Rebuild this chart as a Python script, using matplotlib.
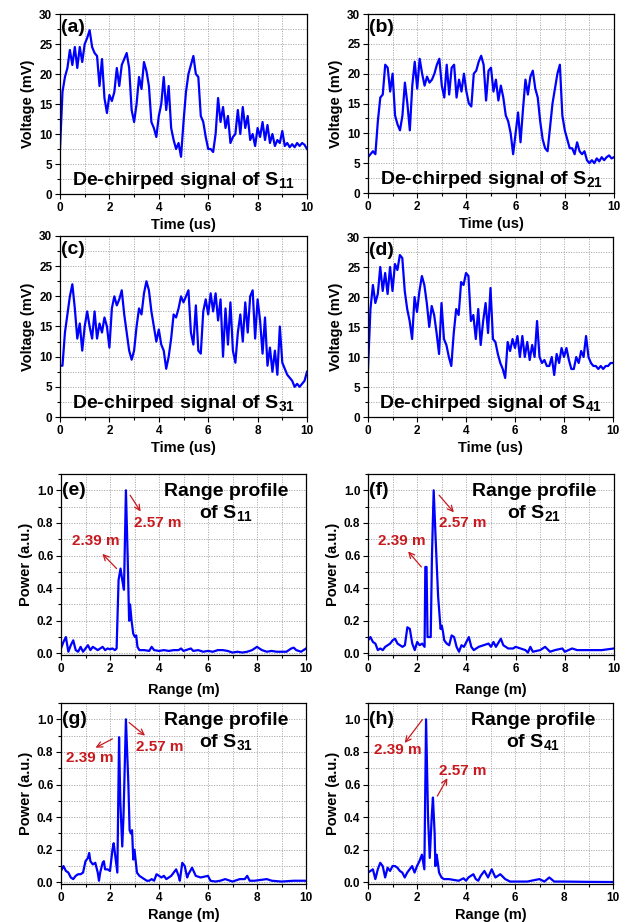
import numpy as np
import matplotlib
matplotlib.use('Agg')
import matplotlib.pyplot as plt
from matplotlib.ticker import MultipleLocator

plt.rcParams['font.family'] = ['Liberation Sans', 'DejaVu Sans']
plt.rcParams['font.weight'] = 'bold'
plt.rcParams['mathtext.fontset'] = 'custom'
plt.rcParams['mathtext.rm'] = 'Liberation Sans'
plt.rcParams['mathtext.bf'] = 'Liberation Sans:bold'

# de-chirped signals, sampled every 0.1 us (mV)
time_us = np.linspace(0, 10, 101)

sig_s11 = [7.5, 17, 19.5, 21, 24, 21.5, 24.5, 21, 24.5, 22,
           25, 26, 27.3, 24.5, 23.5, 23, 18, 22.5, 16, 13.5,
           16.5, 15.5, 17, 21, 18, 21.5, 22.5, 23.5, 21, 14,
           12, 15, 19.5, 17.5, 22, 20.5, 18, 12, 11, 9.5,
           13, 15, 19.5, 14, 18, 11, 9, 7.5, 8.5, 6.2,
           12, 17, 20, 21.5, 23, 20, 19.5, 13, 12, 9.5,
           7.5, 7.5, 7, 10, 16, 12, 14.5, 11, 13, 8.5,
           9.5, 10, 14, 10, 14.5, 11, 13, 9, 10, 8,
           11, 9.5, 12, 9, 11.5, 8.5, 10, 8, 9, 8.5,
           10.5, 8, 8.5, 7.8, 8.3, 7.8, 8.5, 8, 8.5, 8.2, 7.5]

sig_s21 = [6, 6.5, 7, 6.5, 12, 16, 16.5, 21.5, 21, 17,
           20, 13, 11.5, 10.5, 13, 18.5, 15, 10.5, 18, 22,
           17.5, 22.5, 20, 18, 19.5, 18.5, 19, 20, 21.5, 22.5,
           18, 16, 21.5, 16.5, 21, 21.5, 16, 19, 17, 20,
           17, 15, 14.5, 20, 20.5, 22, 23, 21.5, 15.5, 20.5,
           21, 17, 19, 15.5, 18, 16, 13, 12, 10, 6.5,
           10, 13.5, 8.5, 14, 19, 16.5, 19.5, 20.5, 17.5, 16,
           12, 9, 7.5, 7, 11, 15, 17.5, 20, 21.5, 13,
           10.5, 9, 7.5, 7.5, 6.5, 8.5, 7, 6.5, 7, 5.5,
           5, 5.5, 5, 5.8, 5.3, 6, 5.5, 6, 6.3, 5.8, 6]

sig_s31 = [8.5, 8.5, 14, 17, 20, 22, 18, 13, 15.5, 11,
           15, 17.5, 15, 13, 17.5, 13, 15.5, 14, 16.5, 15,
           11.5, 18, 20, 18.5, 19.5, 21, 17, 14, 11, 9.5,
           11, 15, 18, 17, 20.5, 22.5, 21, 17.5, 15, 12.5,
           14.5, 12, 11, 8, 10, 13, 17, 16.5, 18, 20,
           19, 20, 21, 14, 12, 18.5, 11, 10.5, 17.5, 19.5,
           17, 20.5, 17.5, 20.5, 16, 19.5, 10, 18, 12, 19,
           11, 9, 14, 17, 12.5, 19, 14, 20, 21, 13,
           19.5, 16, 10.5, 16.5, 8.5, 11.5, 7.5, 11, 7, 15,
           9, 8, 7, 6.5, 6, 5, 5.5, 5, 5.5, 6, 7.5]

sig_s41 = [8, 18, 22, 19, 20.5, 25, 21, 24, 20.5, 25,
           21, 25.5, 24.5, 27, 26.5, 21, 18, 16, 13, 20,
           17.5, 21, 23.5, 22, 19, 15, 18.5, 17, 14, 10.5,
           19, 13, 12, 10, 8.5, 14, 18, 17, 22.5, 22,
           24, 23.5, 16, 17, 13, 18, 12, 16, 19, 14,
           21.5, 13, 12.5, 10.5, 9, 8, 6.5, 12.5, 11, 13,
           11.5, 13.5, 10, 13.5, 10, 12.5, 9.5, 12, 10, 16,
           10, 9, 9.5, 8.5, 8.5, 10, 7, 10.5, 9, 11.5,
           10, 11.5, 9.5, 8, 8, 10, 9, 11, 10, 13.5,
           10, 9, 8.5, 8.5, 8, 8.5, 8, 8.5, 8.5, 9, 9]

# range profiles (m, a.u.)
rng_s11 = [0, 0.1, 0.2, 0.3, 0.4, 0.5, 0.6, 0.7, 0.8, 0.9, 1.0, 1.1, 1.2, 1.3, 1.4,
           1.5, 1.6, 1.7, 1.8, 1.9, 2.0, 2.1, 2.2, 2.27, 2.35, 2.43, 2.5, 2.57,
           2.65, 2.72, 2.78, 2.82, 2.88, 2.95, 3.02, 3.07, 3.12, 3.2, 3.4, 3.6,
           3.7, 3.8, 4.0, 4.2, 4.4, 4.6, 4.8, 4.9, 5.0, 5.2, 5.3, 5.4, 5.6, 5.8,
           6.0, 6.2, 6.4, 6.6, 6.8, 7.0, 7.2, 7.4, 7.6, 7.8, 8.0, 8.2, 8.4, 8.6,
           8.8, 9.0, 9.2, 9.4, 9.5, 9.6, 9.8, 10.0]
pow_s11 = [0.03, 0.07, 0.1, 0.01, 0.05, 0.08, 0.02, 0.01, 0.04, 0.01, 0.03, 0.05,
           0.02, 0.04, 0.03, 0.02, 0.03, 0.04, 0.02, 0.03, 0.025, 0.03, 0.02, 0.03,
           0.45, 0.52, 0.45, 0.39, 1.0, 0.6, 0.2, 0.3, 0.2, 0.12, 0.1, 0.11, 0.04,
           0.02, 0.02, 0.015, 0.04, 0.02, 0.015, 0.02, 0.015, 0.02, 0.02, 0.03,
           0.015, 0.025, 0.03, 0.015, 0.02, 0.01, 0.015, 0.01, 0.02, 0.02, 0.015,
           0.005, 0.01, 0.005, 0.01, 0.02, 0.04, 0.02, 0.01, 0.015, 0.01, 0.01,
           0.01, 0.03, 0.035, 0.02, 0.01, 0.03]

rng_s21 = [0, 0.1, 0.2, 0.3, 0.4, 0.5, 0.6, 0.7, 0.8, 0.9, 1.0, 1.1, 1.2, 1.3, 1.4,
           1.5, 1.6, 1.7, 1.8, 1.9, 2.0, 2.1, 2.2, 2.3, 2.33, 2.38, 2.42, 2.5,
           2.55, 2.6, 2.67, 2.75, 2.85, 2.95, 3.0, 3.05, 3.1, 3.2, 3.3, 3.4, 3.5,
           3.6, 3.7, 3.8, 3.9, 4.0, 4.1, 4.2, 4.3, 4.5, 4.7, 4.9, 5.0, 5.1, 5.2,
           5.4, 5.5, 5.7, 5.9, 6.0, 6.2, 6.4, 6.5, 6.6, 6.7, 7.0, 7.2, 7.4, 7.6,
           7.9, 8.0, 8.3, 8.5, 9.0, 9.5, 10.0]
pow_s21 = [0.08, 0.1, 0.07, 0.06, 0.02, 0.03, 0.02, 0.04, 0.05, 0.06, 0.08, 0.09,
           0.06, 0.05, 0.04, 0.05, 0.16, 0.15, 0.06, 0.02, 0.07, 0.05, 0.06, 0.04,
           0.53, 0.53, 0.1, 0.1, 0.1, 0.6, 1.0, 0.7, 0.35, 0.15, 0.17, 0.13, 0.08,
           0.06, 0.05, 0.11, 0.1, 0.04, 0.01, 0.05, 0.04, 0.07, 0.1, 0.04, 0.02,
           0.04, 0.05, 0.06, 0.04, 0.07, 0.04, 0.09, 0.05, 0.03, 0.03, 0.04, 0.03,
           0.02, 0.005, 0.04, 0.01, 0.02, 0.04, 0.01, 0.02, 0.03, 0.01, 0.03, 0.02,
           0.02, 0.02, 0.03]

rng_s31 = [0, 0.1, 0.2, 0.3, 0.4, 0.5, 0.6, 0.7, 0.8, 0.9, 1.0, 1.1, 1.15, 1.2, 1.3,
           1.4, 1.5, 1.55, 1.6, 1.7, 1.75, 1.8, 1.9, 2.0, 2.1, 2.15, 2.2, 2.3,
           2.37, 2.42, 2.5, 2.55, 2.65, 2.75, 2.8, 2.85, 2.9, 2.95, 3.0, 3.1, 3.2,
           3.3, 3.4, 3.5, 3.6, 3.7, 3.8, 3.9, 4.0, 4.1, 4.2, 4.3, 4.5, 4.7, 4.8,
           4.85, 4.95, 5.05, 5.15, 5.2, 5.35, 5.5, 5.7, 6.0, 6.1, 6.3, 6.5, 6.7,
           7.0, 7.3, 7.5, 7.6, 7.7, 7.9, 8.4, 8.6, 9.0, 9.5, 10.0]
pow_s31 = [0.07, 0.1, 0.07, 0.06, 0.03, 0.02, 0.04, 0.05, 0.05, 0.06, 0.13, 0.15,
           0.18, 0.13, 0.11, 0.12, 0.06, 0.01, 0.06, 0.12, 0.13, 0.08, 0.08, 0.07,
           0.2, 0.24, 0.18, 0.06, 0.89, 0.5, 0.22, 0.4, 1.0, 0.6, 0.32, 0.3, 0.32,
           0.14, 0.2, 0.06, 0.04, 0.03, 0.02, 0.01, 0.01, 0.02, 0.01, 0.05, 0.04,
           0.03, 0.04, 0.02, 0.04, 0.08, 0.04, 0.01, 0.12, 0.1, 0.03, 0.05, 0.09,
           0.04, 0.03, 0.04, 0.01, 0.005, 0.01, 0.02, 0.005, 0.02, 0.02, 0.04,
           0.01, 0.01, 0.02, 0.01, 0.005, 0.01, 0.01]

rng_s41 = [0, 0.1, 0.2, 0.3, 0.4, 0.5, 0.6, 0.7, 0.8, 0.9, 1.0, 1.1, 1.2, 1.3, 1.4,
           1.5, 1.6, 1.7, 1.8, 1.9, 2.0, 2.1, 2.2, 2.3, 2.37, 2.45, 2.52, 2.6,
           2.65, 2.72, 2.75, 2.8, 2.85, 2.9, 3.0, 3.1, 3.3, 3.5, 3.7, 3.9, 4.0,
           4.1, 4.3, 4.4, 4.5, 4.6, 4.75, 4.9, 5.05, 5.2, 5.4, 5.6, 5.8, 6.0, 6.5,
           7.0, 7.2, 7.4, 7.6, 8.0, 9.0, 10.0]
pow_s41 = [0.06, 0.07, 0.08, 0.02, 0.08, 0.12, 0.1, 0.03, 0.09, 0.07, 0.1, 0.1,
           0.09, 0.07, 0.06, 0.03, 0.06, 0.08, 0.1, 0.06, 0.1, 0.13, 0.17, 0.08,
           1.0, 0.4, 0.15, 0.4, 0.52, 0.3, 0.1, 0.17, 0.12, 0.06, 0.03, 0.02,
           0.02, 0.015, 0.01, 0.025, 0.01, 0.03, 0.05, 0.02, 0.01, 0.04, 0.07,
           0.03, 0.08, 0.03, 0.05, 0.02, 0.005, 0.005, 0.005, 0.02, 0.005, 0.03,
           0.005, 0.005, 0.003, 0.002]

BLUE = '#0000ff'
RED = '#c8191e'
W, H = 626, 922

fig = plt.figure(figsize=(W / 100, H / 100), dpi=100)


def make_ax(l, r, t, b):
    ax = fig.add_axes([l / W, 1 - b / H, (r - l) / W, (b - t) / H])
    ax.tick_params(which='both', direction='out', labelsize=8.5, width=0.8, pad=2)
    ax.tick_params(which='major', length=3.5)
    ax.tick_params(which='minor', length=2)
    for s in ax.spines.values():
        s.set_linewidth(0.9)
    ax.grid(which='both', color='#a6a6a6', linestyle=(0, (1.5, 1.5)), linewidth=0.6)
    ax.set_axisbelow(True)
    ax.set_xlim(0, 10)
    ax.xaxis.set_major_locator(MultipleLocator(2))
    ax.xaxis.set_minor_locator(MultipleLocator(1))
    return ax


def bold_ticks(ax):
    for lab in ax.get_xticklabels() + ax.get_yticklabels():
        lab.set_fontweight('bold')


# --- time domain panels ---
time_panels = [
    ((60, 307, 14, 194), sig_s11, '(a)', '11'),
    ((368, 614, 14, 193), sig_s21, '(b)', '21'),
    ((60, 307, 236, 417), sig_s31, '(c)', '31'),
    ((368, 613, 237, 417), sig_s41, '(d)', '41'),
]
for box, sig, tag, sub in time_panels:
    ax = make_ax(*box)
    ax.plot(time_us, sig, color=BLUE, lw=1.6)
    ax.set_ylim(0, 30)
    ax.yaxis.set_major_locator(MultipleLocator(5))
    ax.yaxis.set_minor_locator(MultipleLocator(2.5))
    ax.set_xlabel('Time (us)', fontsize=10.5, fontweight='bold', labelpad=3)
    ax.set_ylabel('Voltage (mV)', fontsize=10.5, fontweight='bold', labelpad=3)
    bold_ticks(ax)
    ax.text(0.05, 27.8, tag, fontsize=14, fontweight='bold', va='center')
    ax.text(5.0, 2.3, 'De-chirped signal of S$_{' + sub + '}$', fontsize=14,
            fontweight='bold', ha='center', va='center')

# --- range profile panels ---
# (tail, head, text position, label) for each marker
range_panels = [
    ((61, 306, 474, 655), rng_s11, pow_s11, '(e)', '11', 6,
     [((2.82, 0.97), (3.25, 0.87), (2.97, 0.80), '2.57 m'),
      ((2.27, 0.52), (1.69, 0.61), (0.44, 0.69), '2.39 m')]),
    ((368, 614, 474, 655), rng_s21, pow_s21, '(f)', '21', 6,
     [((2.89, 0.97), (3.49, 0.865), (2.89, 0.80), '2.57 m'),
      ((2.17, 0.53), (1.63, 0.625), (0.41, 0.69), '2.39 m')]),
    ((61, 306, 703, 884), rng_s31, pow_s31, '(g)', '31', 3,
     [((2.78, 0.98), (3.43, 0.90), (3.05, 0.83), '2.57 m'),
      ((2.10, 0.88), (1.41, 0.826), (0.20, 0.764), '2.39 m')]),
    ((368, 613, 703, 884), rng_s41, pow_s41, '(h)', '41', 3,
     [((2.22, 0.998), (1.50, 0.855), (0.245, 0.81), '2.39 m'),
      ((2.83, 0.529), (3.24, 0.639), (2.90, 0.686), '2.57 m')]),
]
for box, rx, py, tag, sub, lpad, marks in range_panels:
    ax = make_ax(*box)
    ax.plot(rx, py, color=BLUE, lw=1.6)
    ax.set_ylim(-0.01, 1.1)
    ax.yaxis.set_major_locator(MultipleLocator(0.2))
    ax.yaxis.set_minor_locator(MultipleLocator(0.1))
    ax.set_xlabel('Range (m)', fontsize=10.5, fontweight='bold', labelpad=lpad)
    ax.set_ylabel('Power (a.u.)', fontsize=10.5, fontweight='bold', labelpad=3)
    bold_ticks(ax)
    ax.text(0.05, 1.0, tag, fontsize=14, fontweight='bold', va='center')
    ax.text(6.75, 0.995, 'Range profile', fontsize=14, fontweight='bold',
            ha='center', va='center')
    ax.text(6.75, 0.855, 'of S$_{' + sub + '}$', fontsize=14, fontweight='bold',
            ha='center', va='center')
    for tail, head, tpos, label in marks:
        ax.annotate('', xy=head, xytext=tail,
                    arrowprops=dict(arrowstyle='->', color=RED, lw=0.9,
                                    shrinkA=0, shrinkB=0))
        ax.text(tpos[0], tpos[1], label, color=RED, fontsize=11,
                fontweight='bold', ha='left', va='center')

fig.savefig('out.png', dpi=100)
